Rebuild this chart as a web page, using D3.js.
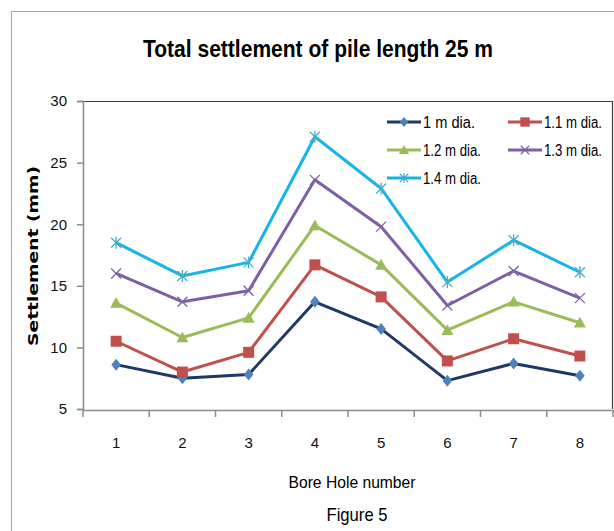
<!DOCTYPE html>
<html>
<head>
<meta charset="utf-8">
<script src="https://cdn.jsdelivr.net/npm/d3@7"></script>
<style>
  body { margin: 0; background: #fff; }
  svg { display: block; }
</style>
</head>
<body>
<svg id="chart" width="614" height="531"></svg>
<script>
const boreHoles = [1, 2, 3, 4, 5, 6, 7, 8];
const yTicks = [5, 10, 15, 20, 25, 30];
const seriesNames = ["1 m dia.", "1.1 m dia.", "1.2 m dia.", "1.3 m dia.", "1.4 m dia."];
const dia10 = [8.6, 7.5, 7.8, 13.7, 11.5, 7.3, 8.7, 7.7];
const dia11 = [10.5, 8.0, 9.6, 16.7, 14.1, 8.9, 10.7, 9.3];
const dia12 = [13.6, 10.8, 12.4, 19.9, 16.7, 11.4, 13.7, 12.0];
const dia13 = [16.0, 13.7, 14.6, 23.6, 19.8, 13.4, 16.2, 14.0];
const dia14 = [18.5, 15.8, 16.9, 27.1, 22.9, 15.3, 18.7, 16.1];

const font = "'Liberation Sans', sans-serif";

const svg = d3.select("#chart");

// outer chart frame
svg.append("rect")
  .attr("x", 11.5).attr("y", 11.5)
  .attr("width", 700).attr("height", 700)
  .attr("fill", "none").attr("stroke", "#a6a6a6");

const plot = { left: 83, right: 613, top: 101, bottom: 409 };

const x = d3.scaleBand().domain(boreHoles).range([plot.left, plot.right]).padding(0);
const y = d3.scaleLinear().domain([5, 30]).range([plot.bottom, plot.top]);
const cx = d => x(d) + x.bandwidth() / 2;

// plot frame (top/right)
svg.append("path")
  .attr("d", `M${plot.left},${plot.top + 0.5}H${plot.right - 0.5}V${plot.bottom}`)
  .attr("fill", "none").attr("stroke", "#404040").attr("stroke-width", 1.2);

// y axis
const yAxis = svg.append("g")
  .attr("transform", `translate(${plot.left},0)`)
  .call(d3.axisLeft(y).tickValues(yTicks).tickSize(6).tickPadding(10));
yAxis.select(".domain").attr("stroke", "#8c8c8c").attr("stroke-width", 1.5);
yAxis.selectAll(".tick line").attr("stroke", "#8c8c8c").attr("stroke-width", 1.5);
yAxis.selectAll("text").style("font-family", font).style("font-size", "15px").attr("fill", "#111");

// x axis: labels centred in bands, ticks on band edges
const xAxis = svg.append("g")
  .attr("transform", `translate(0,${plot.bottom + 1})`)
  .call(d3.axisBottom(x).tickSize(0).tickPadding(27));
xAxis.select(".domain").attr("stroke", "#8c8c8c").attr("stroke-width", 1.5);
xAxis.selectAll("text").style("font-family", font).style("font-size", "15px").attr("fill", "#111");
const edges = boreHoles.map(d => x(d)).concat([x.range()[1]]);
xAxis.selectAll(".edge")
  .data(edges).join("line")
  .attr("x1", d => d).attr("x2", d => d)
  .attr("y1", 0).attr("y2", 7)
  .attr("stroke", "#8c8c8c").attr("stroke-width", 1.5);

// titles
svg.append("text")
  .attr("x", 318).attr("y", 57)
  .attr("text-anchor", "middle")
  .attr("textLength", 350).attr("lengthAdjust", "spacingAndGlyphs")
  .style("font-family", font).style("font-size", "24px").style("font-weight", "bold")
  .text("Total settlement of pile length 25 m");

svg.append("text")
  .attr("transform", "translate(38,256) rotate(-90)")
  .attr("text-anchor", "middle")
  .attr("textLength", 180).attr("lengthAdjust", "spacingAndGlyphs")
  .style("font-family", "'DejaVu Sans', sans-serif").style("font-size", "14px").style("font-weight", "bold")
  .text("Settlement (mm)");

svg.append("text")
  .attr("x", 352).attr("y", 488)
  .attr("text-anchor", "middle")
  .attr("textLength", 127).attr("lengthAdjust", "spacingAndGlyphs")
  .style("font-family", font).style("font-size", "17px")
  .text("Bore Hole  number");

svg.append("text")
  .attr("x", 357).attr("y", 521)
  .attr("text-anchor", "middle")
  .attr("textLength", 61).attr("lengthAdjust", "spacingAndGlyphs")
  .style("font-family", font).style("font-size", "19px")
  .text("Figure 5");

// markers
function markerPath(kind, s) {
  const h = s / 2;
  if (kind === "diamond") return `M0,${-h}L${h * 0.8},0L0,${h}L${-h * 0.8},0Z`;
  if (kind === "square") return `M${-h},${-h}H${h}V${h}H${-h}Z`;
  if (kind === "triangle") return `M0,${-h}L${h},${h * 0.8}L${-h},${h * 0.8}Z`;
  if (kind === "x") return `M${-h},${-h}L${h},${h}M${h},${-h}L${-h},${h}`;
  return `M${-h},${-h}L${h},${h}M${h},${-h}L${-h},${h}M0,${-h * 1.2}V${h * 1.2}`;
}

const series = [
  { name: seriesNames[0], values: dia10, line: "#1f3864", mark: "#4f81bd", kind: "diamond", size: 12, filled: true },
  { name: seriesNames[1], values: dia11, line: "#c0504d", mark: "#c0504d", kind: "square", size: 11, filled: true },
  { name: seriesNames[2], values: dia12, line: "#9bbb59", mark: "#9bbb59", kind: "triangle", size: 12, filled: true },
  { name: seriesNames[3], values: dia13, line: "#7d5fa6", mark: "#8064a2", kind: "x", size: 10, filled: false },
  { name: seriesNames[4], values: dia14, line: "#17b4ea", mark: "#4bacc6", kind: "star", size: 10, filled: false }
];

const line = d3.line().x(d => cx(d.b)).y(d => y(d.v));

series.forEach(s => {
  const pts = boreHoles.map((b, i) => ({ b, v: s.values[i] }));
  svg.append("path")
    .datum(pts)
    .attr("fill", "none")
    .attr("stroke", s.line)
    .attr("stroke-width", 3)
    .attr("stroke-linejoin", "round")
    .attr("d", line);
  svg.append("g").selectAll("path")
    .data(pts).join("path")
    .attr("transform", d => `translate(${cx(d.b)},${y(d.v)})`)
    .attr("d", markerPath(s.kind, s.size))
    .attr("fill", s.filled ? s.mark : "none")
    .attr("stroke", s.mark)
    .attr("stroke-width", s.filled ? 0 : 1.3);
});

// legend
const legendPos = [[387, 122], [508, 122], [387, 150], [508, 150], [387, 178]];
series.forEach((s, i) => {
  const [lx, ly] = legendPos[i];
  const g = svg.append("g").attr("transform", `translate(${lx},${ly})`);
  g.append("line").attr("x1", 0).attr("x2", 34).attr("y1", 0).attr("y2", 0)
    .attr("stroke", s.line).attr("stroke-width", 3);
  g.append("path").attr("transform", "translate(17,0)")
    .attr("d", markerPath(s.kind, s.size * 0.85))
    .attr("fill", s.filled ? s.mark : "none")
    .attr("stroke", s.mark)
    .attr("stroke-width", s.filled ? 0 : 1.2);
  g.append("text").attr("x", 36).attr("y", 5.5)
    .attr("textLength", s.name.length > 8 ? 58 : 52).attr("lengthAdjust", "spacingAndGlyphs")
    .style("font-family", font).style("font-size", "16px")
    .text(s.name);
});
</script>
</body>
</html>
